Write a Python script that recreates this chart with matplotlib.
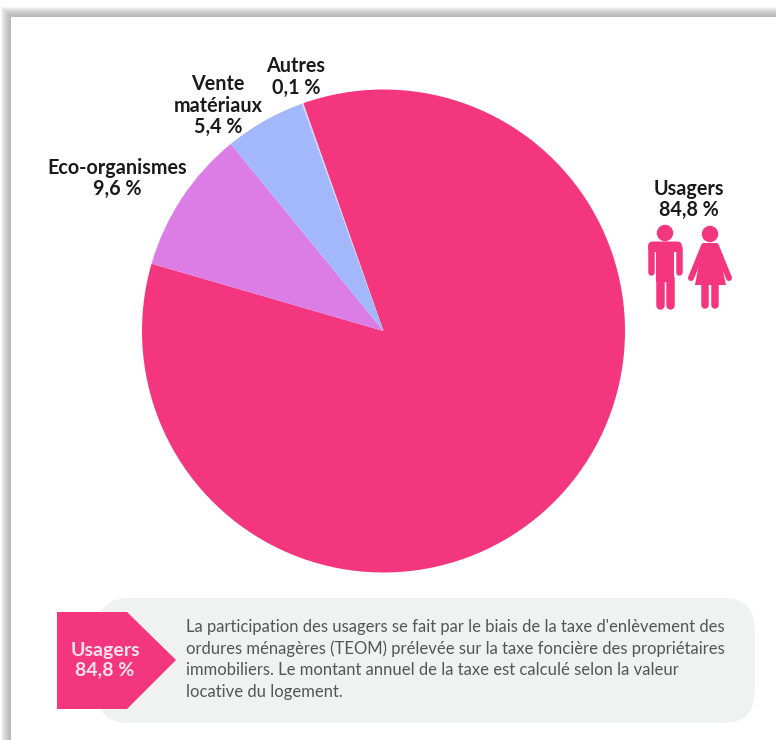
import matplotlib.pyplot as plt
from matplotlib.patches import Circle, FancyBboxPatch, Polygon, Rectangle

W, H = 776, 740
PINK = '#F4367F'

# shares in %, clockwise from the top of the big slice
names = ['Usagers', 'Eco-organismes', 'Vente matériaux', 'Autres']
shares = [84.8, 9.6, 5.4, 0.1]
share_labels = ['84,8 %', '9,6 %', '5,4 %', '0,1 %']
slice_colors = [PINK, '#DC7DE6', '#A3B7FB', '#C9D3FB']

note_lines = [
    "La participation des usagers se fait par le biais de la taxe d'enlèvement des",
    "ordures ménagères (TEOM) prélevée sur la taxe foncière des propriétaires",
    "immobiliers. Le montant annuel de la taxe est calculé selon la valeur",
    "locative du logement.",
]


def py(y):
    """Pixel row in the picture (from the top) to axes y."""
    return H - y


def px_lw(w):
    return w * 72 / 100


def draw_man(ax):
    ax.add_patch(Circle((665, py(233)), 8.2, color=PINK, lw=0))
    ax.add_patch(FancyBboxPatch((648, py(252)), 34, 10.5, boxstyle='round,pad=0,rounding_size=5',
                                color=PINK, lw=0))
    ax.add_patch(Rectangle((656, py(282)), 18, 34, color=PINK, lw=0))
    for x in (651, 679):
        ax.plot([x, x], [py(248), py(272)], color=PINK, lw=px_lw(6.5), solid_capstyle='round')
    for x in (660, 670):
        ax.plot([x, x], [py(278), py(305)], color=PINK, lw=px_lw(8.5), solid_capstyle='round')


def draw_woman(ax):
    ax.add_patch(Circle((710, py(234)), 8.2, color=PINK, lw=0))
    ax.add_patch(Polygon([(703, py(243)), (717, py(243)), (726, py(285)), (695, py(285))],
                         closed=True, color=PINK, lw=0))
    ax.plot([704, 691], [py(246), py(278)], color=PINK, lw=px_lw(6), solid_capstyle='round')
    ax.plot([716, 729], [py(246), py(278)], color=PINK, lw=px_lw(6), solid_capstyle='round')
    for x in (705, 715):
        ax.plot([x, x], [py(283), py(305)], color=PINK, lw=px_lw(7.5), solid_capstyle='round')


plt.rcParams['font.family'] = ['Lato', 'DejaVu Sans']
fig = plt.figure(figsize=(W / 100, H / 100), dpi=100, facecolor='white')
ax = fig.add_axes([0, 0, 1, 1])

# soft drop shadow of the page along the top and left edges
for i in range(10):
    ax.add_patch(Rectangle((1 + i, 0), W, py(7 + i), color='#909090', alpha=0.09, lw=0, zorder=0))
ax.add_patch(Rectangle((11, 0), W, py(17), color='white', lw=0, zorder=0.5))

ax.pie(shares, colors=slice_colors, center=(383.5, py(331)), radius=241.5, startangle=109.4,
       counterclock=False, frame=True, wedgeprops={'linewidth': 0})

label_font = dict(fontsize=14.2, fontweight='bold', color='#1a1a1a', ha='center', va='center',
                  linespacing=1.1)
ax.text(117, py(178.5), f'{names[1]}\n{share_labels[1]}', **label_font)
ax.text(218, py(105.5), f'Vente\nmatériaux\n{share_labels[2]}', **label_font)
ax.text(296, py(77), f'{names[3]}\n{share_labels[3]}', **label_font)
ax.text(689, py(199.5), f'{names[0]}\n{share_labels[0]}', **label_font)

draw_man(ax)
draw_woman(ax)

# note box at the bottom
ax.add_patch(FancyBboxPatch((97, py(723)), 658, 125, boxstyle='round,pad=0,rounding_size=32',
                            color='#F0F1F1', lw=0))
ax.add_patch(Polygon([(57, py(612)), (127, py(612)), (176, py(660)), (127, py(709)), (57, py(709))],
                     closed=True, color=PINK, lw=0))
ax.text(105, py(660), f'{names[0]}\n{share_labels[0]}', fontsize=14, fontweight='bold',
        color='#FBE3EC', ha='center', va='center', linespacing=1.12)
for i, line in enumerate(note_lines):
    ax.text(186, py(627 + i * 21.7), line, fontsize=11.95, color='#555555', ha='left', va='center')

ax.set_xlim(0, W)
ax.set_ylim(0, H)
ax.set_aspect('auto')
ax.axis('off')

fig.savefig('out.png', dpi=100)
